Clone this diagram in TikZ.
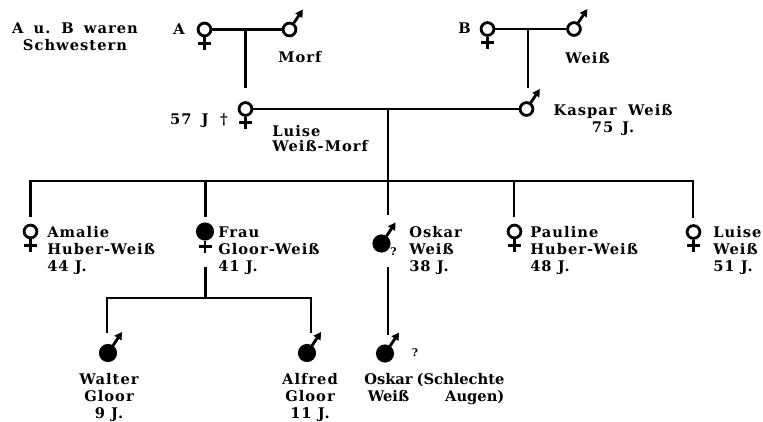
\documentclass[tikz,border=0pt]{standalone}
\usepackage{fontspec}
\setmainfont{DejaVu Serif}[LetterSpace=7]
\usetikzlibrary{arrows.meta,calc}
\begin{document}
\begin{tikzpicture}[x=0.75pt,y=-0.75pt,
  conn/.style={line width=2.2pt,line join=miter},
  per/.style={circle,draw,line width=2.1pt,minimum size=9.6pt,inner sep=0pt},
  aff/.style={fill=black,minimum size=11.5pt},
  symline/.style={line width=2.1pt},
  txt/.style={font=\bfseries\fontsize{11}{12.4}\selectfont,inner sep=0pt,align=left},
  ctxt/.style={txt,align=center},
  qm/.style={font=\bfseries\fontsize{8}{9}\selectfont,inner sep=0pt}]
\useasboundingbox (0,0) rectangle (763,421);

% persons
\node[per] (A) at (204.5,29.5) {};
\node[per] (Morf) at (289.5,29.5) {};
\node[per] (Luise) at (245.5,109) {};
\node[per] (B) at (487.5,29) {};
\node[per] (WeissM) at (574,29) {};
\node[per] (Kaspar) at (526.5,109) {};
\node[per] (Amalie) at (30.5,231.5) {};
\node[per,aff] (Frau) at (205,231.5) {};
\node[per,aff] (Oskar) at (381.5,243.5) {};
\node[per] (Pauline) at (514.5,231.5) {};
\node[per] (LuiseW) at (693.5,232) {};
\node[per,aff] (Walter) at (108,353) {};
\node[per,aff] (Alfred) at (307,353) {};
\node[per,aff] (OskarJr) at (385,353.5) {};

% female crosses
\foreach \n in {A,Luise,B,Amalie,Frau,Pauline,LuiseW}
  \draw[symline] (\n.south) -- ++(0,12.5) ($(\n.south)+(-6.5,6)$) -- ++(13,0);
% male arrows
\foreach \n in {Morf,WeissM,Kaspar,Oskar,Walter,Alfred,OskarJr}
  \draw[symline,-{Triangle[length=5.5pt,width=6pt]}] (\n.56) -- ++(9,-13.5);

% connectors
\coordinate (mA) at (245.6,29.5);
\coordinate (eLuise) at (245.6,88);
\coordinate (mB) at (528,29);
\coordinate (eKaspar) at (528,88);
\coordinate (mLK) at (388,109);
\coordinate (ySib) at (0,181);
\coordinate (eAmalie) at (30.7,217);
\coordinate (eFrau) at (205.7,217);
\coordinate (eOskar) at (388,215);
\coordinate (ePauline) at (514,217);
\coordinate (eLuiseW) at (693,218);
\coordinate (dFrau) at (205.7,267);
\coordinate (yG) at (0,298);
\coordinate (eWalter) at (107,333);
\coordinate (eAlfred) at (311,333);
\coordinate (dOskar) at (388,267);
\coordinate (eOskarJr) at (388,335);

\draw[conn] (A) -- (Morf);
\draw[conn] (mA) -- (eLuise);
\draw[conn] (B) -- (WeissM);
\draw[conn] (mB) -- (eKaspar);
\draw[conn] (Luise) -- (Kaspar);
\draw[conn] (mLK) -- (mLK |- ySib);
\draw[conn] (eAmalie) -- (eAmalie |- ySib) -- (eLuiseW |- ySib) -- (eLuiseW);
\draw[conn] (eFrau |- ySib) -- (eFrau);
\draw[conn] (eOskar |- ySib) -- (eOskar);
\draw[conn] (ePauline |- ySib) -- (ePauline);
\draw[conn] (dFrau) -- (dFrau |- yG);
\draw[conn] (eWalter) -- (eWalter |- yG) -- (eAlfred |- yG) -- (eAlfred);
\draw[conn] (dOskar) -- (eOskarJr);

% texts (anchors at the baseline of the last line)
\node[ctxt,anchor=base] (tAB) at (75,50) {A\hspace{3pt} u.\hspace{2pt} B\hspace{3pt} waren\\Schwestern};
\node[txt,anchor=base east] (tA) at (185,34) {A};
\node[txt,anchor=base west] (tMorf) at (278,62) {Morf};
\node[txt,anchor=base east] (tB) at (471,33) {B};
\node[txt,anchor=base west] (tWeiss) at (565,63) {Weiß};
\node[txt,anchor=base east] (tAge) at (228,124) {57\hspace{3pt} J\hspace{4pt} †};
\node[txt,anchor=base west,font=\bfseries\fontsize{11}{10.8}\selectfont] (tLuise) at (272,151) {Luise\\Weiß-Morf};
\node[ctxt,anchor=base] (tKaspar) at (613,132) {Kaspar\hspace{4pt} Weiß\\75\hspace{2pt} J.};
\node[txt,anchor=base west] (tAmalie) at (47,271) {Amalie\\Huber-Weiß\\44 J.};
\node[txt,anchor=base west] (tFrau) at (218,271) {Frau\\Gloor-Weiß\\41 J.};
\node[txt,anchor=base west] (tOskar) at (409,271) {Oskar\\Weiß\\38 J.};
\node[txt,anchor=base west] (tPauline) at (530,271) {Pauline\\Huber-Weiß\\48 J.};
\node[txt,anchor=base west] (tLuiseW) at (713,271) {Luise\\Weiß\\51 J.};
\node[ctxt,anchor=base] (tWalter) at (109,418) {Walter\\Gloor\\9 J.};
\node[ctxt,anchor=base] (tAlfred) at (310,418) {Alfred\\Gloor\\11 J.};
\node[txt,anchor=base west] (tOskarJr) at (364,401.5)
  {\addfontfeatures{LetterSpace=0}\begin{tabular}[b]{@{}c@{\hspace{3pt}}r@{}}Oskar & (Schlechte\\ Weiß & Augen)\end{tabular}};
\node[qm] (q1) at (393.5,252) {?};
\node[qm] (q2) at (415,353) {?};
\end{tikzpicture}
\end{document}
